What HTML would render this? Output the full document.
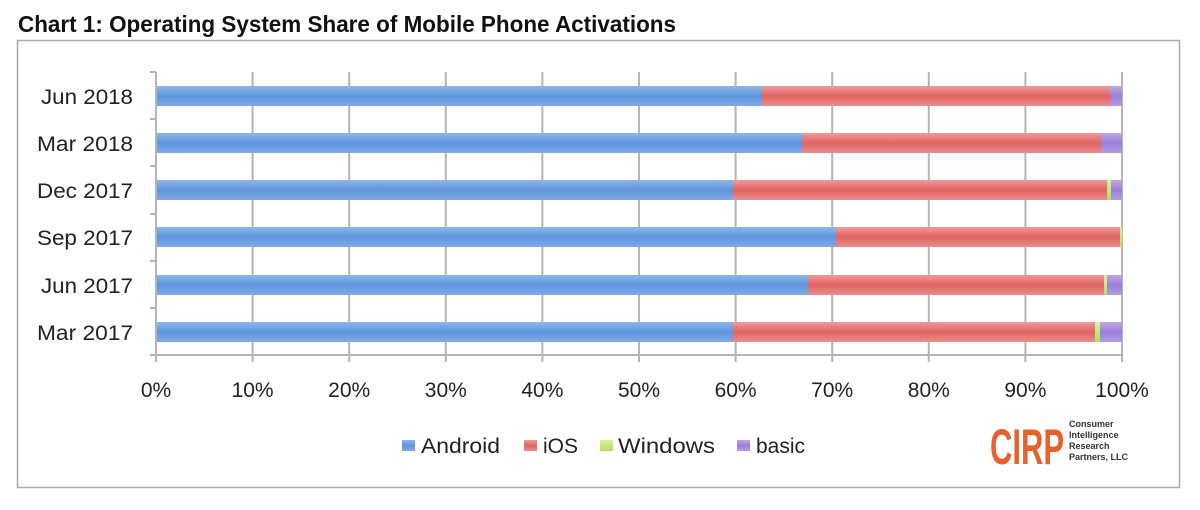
<!DOCTYPE html>
<html><head><style>
body{margin:0;background:#fff;width:1200px;height:505px;overflow:hidden}
</style></head><body>
<svg width="1200" height="505" xmlns="http://www.w3.org/2000/svg" font-family="Liberation Sans, sans-serif">
<defs>
<linearGradient id="gb" x1="0" y1="0" x2="0" y2="1"><stop offset="0" stop-color="#8fb6ea"/><stop offset="0.5" stop-color="#5f95dd"/><stop offset="1" stop-color="#80aae6"/></linearGradient>
<linearGradient id="gr" x1="0" y1="0" x2="0" y2="1"><stop offset="0" stop-color="#f09a9a"/><stop offset="0.5" stop-color="#e06464"/><stop offset="1" stop-color="#ec8d8d"/></linearGradient>
<linearGradient id="gg" x1="0" y1="0" x2="0" y2="1"><stop offset="0" stop-color="#d8f29a"/><stop offset="1" stop-color="#b0e060"/></linearGradient>
<linearGradient id="gp" x1="0" y1="0" x2="0" y2="1"><stop offset="0" stop-color="#c0a8e8"/><stop offset="0.5" stop-color="#9b7fd6"/><stop offset="1" stop-color="#b49de2"/></linearGradient>
</defs>
<text x="18" y="32" font-size="23" font-weight="bold" fill="#111" textLength="658" lengthAdjust="spacingAndGlyphs">Chart 1: Operating System Share of Mobile Phone Activations</text>
<rect x="17.5" y="40.5" width="1162" height="447" fill="#fff" stroke="#aaa" stroke-width="1.5"/>
<g stroke="#b5b5b5" stroke-width="2">
<line x1="252.6" y1="72" x2="252.6" y2="362"/><line x1="349.2" y1="72" x2="349.2" y2="362"/><line x1="445.8" y1="72" x2="445.8" y2="362"/><line x1="542.4" y1="72" x2="542.4" y2="362"/><line x1="639" y1="72" x2="639" y2="362"/><line x1="735.6" y1="72" x2="735.6" y2="362"/><line x1="832.2" y1="72" x2="832.2" y2="362"/><line x1="928.8" y1="72" x2="928.8" y2="362"/><line x1="1025.4" y1="72" x2="1025.4" y2="362"/><line x1="1122" y1="72" x2="1122" y2="362"/>
<line x1="156" y1="72" x2="156" y2="362"/><line x1="156" y1="355" x2="1122" y2="355"/>
<line x1="150" y1="72" x2="156" y2="72"/><line x1="150" y1="119" x2="156" y2="119"/><line x1="150" y1="166" x2="156" y2="166"/><line x1="150" y1="214" x2="156" y2="214"/><line x1="150" y1="261" x2="156" y2="261"/><line x1="150" y1="308" x2="156" y2="308"/><line x1="150" y1="355" x2="156" y2="355"/>
</g>
<g>
<rect x="157" y="86" width="605" height="20" fill="url(#gb)"/><rect x="762" y="86" width="348" height="20" fill="url(#gr)"/><rect x="1110" y="86" width="12" height="20" fill="url(#gp)"/>
<rect x="157" y="133" width="645" height="20" fill="url(#gb)"/><rect x="802" y="133" width="299" height="20" fill="url(#gr)"/><rect x="1101" y="133" width="21" height="20" fill="url(#gp)"/>
<rect x="157" y="180" width="576" height="20" fill="url(#gb)"/><rect x="733" y="180" width="374" height="20" fill="url(#gr)"/><rect x="1107" y="180" width="4" height="20" fill="url(#gg)"/><rect x="1111" y="180" width="11" height="20" fill="url(#gp)"/>
<rect x="157" y="227" width="679" height="20" fill="url(#gb)"/><rect x="836" y="227" width="284" height="20" fill="url(#gr)"/><rect x="1120" y="227" width="2" height="20" fill="url(#gg)"/>
<rect x="157" y="275" width="651" height="20" fill="url(#gb)"/><rect x="808" y="275" width="296" height="20" fill="url(#gr)"/><rect x="1104" y="275" width="3" height="20" fill="url(#gg)"/><rect x="1107" y="275" width="15" height="20" fill="url(#gp)"/>
<rect x="157" y="322" width="576" height="20" fill="url(#gb)"/><rect x="733" y="322" width="362" height="20" fill="url(#gr)"/><rect x="1095" y="322" width="5" height="20" fill="url(#gg)"/><rect x="1100" y="322" width="22" height="20" fill="url(#gp)"/>
</g>
<g font-size="21" fill="#222" text-anchor="end">
<text x="133" y="104" textLength="92" lengthAdjust="spacingAndGlyphs">Jun 2018</text><text x="133" y="151" textLength="96" lengthAdjust="spacingAndGlyphs">Mar 2018</text><text x="133" y="198" textLength="96" lengthAdjust="spacingAndGlyphs">Dec 2017</text><text x="133" y="245" textLength="96" lengthAdjust="spacingAndGlyphs">Sep 2017</text><text x="133" y="293" textLength="92" lengthAdjust="spacingAndGlyphs">Jun 2017</text><text x="133" y="340" textLength="96" lengthAdjust="spacingAndGlyphs">Mar 2017</text>
</g>
<g font-size="21" fill="#222" text-anchor="middle">
<text x="156" y="397">0%</text><text x="252.6" y="397">10%</text><text x="349.2" y="397">20%</text><text x="445.8" y="397">30%</text><text x="542.4" y="397">40%</text><text x="639" y="397">50%</text><text x="735.6" y="397">60%</text><text x="832.2" y="397">70%</text><text x="928.8" y="397">80%</text><text x="1025.4" y="397">90%</text><text x="1122" y="397">100%</text>
</g>
<g font-size="21" fill="#222">
<rect x="402" y="440" width="13" height="11" fill="url(#gb)"/><text x="421" y="453" textLength="79" lengthAdjust="spacingAndGlyphs">Android</text>
<rect x="524" y="440" width="13" height="11" fill="url(#gr)"/><text x="543" y="453">iOS</text>
<rect x="600" y="440" width="13" height="11" fill="url(#gg)"/><text x="618" y="453" textLength="97" lengthAdjust="spacingAndGlyphs">Windows</text>
<rect x="737" y="440" width="13" height="11" fill="url(#gp)"/><text x="756" y="453">basic</text>
</g>
<text x="990" y="464" font-size="50" font-weight="bold" fill="#e8602c" textLength="74" lengthAdjust="spacingAndGlyphs">CIRP</text>
<g font-size="9" font-weight="bold" fill="#333">
<text x="1069" y="427">Consumer</text><text x="1069" y="438">Intelligence</text><text x="1069" y="449">Research</text><text x="1069" y="460">Partners, LLC</text>
</g>
</svg>
</body></html>
